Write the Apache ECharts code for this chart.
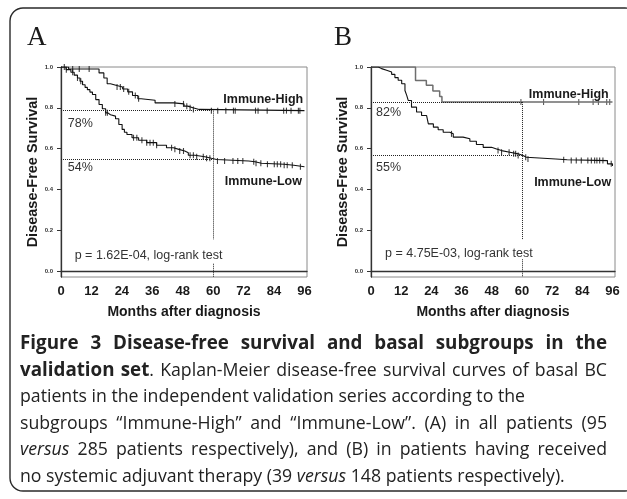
<!DOCTYPE html>
<html>
<head>
<meta charset="utf-8">
<script src="https://cdn.jsdelivr.net/npm/echarts@6/dist/echarts.min.js"></script>
<style>
html,body{margin:0;padding:0;background:#fff;}
#chart{width:627px;height:499px;}
</style>
</head>
<body>
<div id="chart"></div>
<script>
// ---------- data ----------
const xTicks = [0, 12, 24, 36, 48, 60, 72, 84, 96];
const yTicks = [0, 0.2, 0.4, 0.6, 0.8, 1.0];

// Panel A (all patients)
const hiA_t = [0, 3, 15, 16.9, 18.2, 19.5, 22, 24.3, 26.3, 28.2, 30.3, 31.6, 37.1, 44.5, 48.5, 50, 52, 54.5, 96];
const hiA_s = [1, 0.99, 0.971, 0.946, 0.918, 0.909, 0.902, 0.892, 0.878, 0.86, 0.844, 0.837, 0.824, 0.819, 0.808, 0.8, 0.792, 0.786, 0.786];
const loA_t = [0, 2, 3.9, 5.2, 6.5, 7.5, 8.5, 9.5, 10.4, 11.4, 12.4, 13.7, 15, 16.3, 17.6, 18.5, 19.5, 21.5, 22.8, 24.1, 25, 26, 28, 30.6, 33.8, 37.7, 41.6, 44.3, 46.5, 48.8, 50.2, 52.8, 56.7, 59.3, 61.3, 74, 76.5, 79, 88, 91.8, 96];
const loA_s = [1, 0.987, 0.974, 0.96, 0.946, 0.93, 0.913, 0.9, 0.889, 0.877, 0.865, 0.84, 0.816, 0.795, 0.775, 0.766, 0.759, 0.746, 0.718, 0.694, 0.68, 0.669, 0.653, 0.641, 0.629, 0.616, 0.604, 0.596, 0.588, 0.58, 0.567, 0.56, 0.552, 0.546, 0.539, 0.535, 0.528, 0.523, 0.518, 0.511, 0.508];
const cenHiA = [1.3, 4.6, 7.2, 11.1, 22.1, 23.4, 24.7, 26.7, 29.3, 30.6, 44.9, 48.3, 49.6, 50.9, 52.2, 59.3, 61.8, 65, 68, 68.7, 76.7, 77.7, 81.3, 87.8, 88.9, 90.7, 93.6, 94.2];
const cenLoA = [2.1, 4.6, 6.5, 7.8, 17.6, 18.3, 28.6, 29.9, 31.9, 33.8, 35.1, 36.4, 37.7, 43.6, 44.9, 46.8, 48.3, 50.9, 52.2, 53.5, 56.1, 57.4, 58.7, 61.7, 64.5, 67.8, 69.7, 71.7, 76, 76.9, 78.8, 81.4, 84.1, 85.3, 86.6, 88, 89.2, 91.2, 94.4];
const fiveA = {hi: 0.786, lo: 0.548};

// Panel B (no adjuvant therapy)
const hiB_t = [0, 17.7, 22, 24.6, 27.3, 28.2, 96];
const hiB_s = [1, 0.934, 0.91, 0.882, 0.855, 0.828, 0.828];
const loB_t = [0, 2.9, 4.2, 6.2, 8.2, 9.5, 10.8, 12.2, 13.5, 14.2, 14.8, 16.1, 18.1, 20.1, 22.1, 22.8, 24.8, 26.7, 28.7, 31.3, 32.7, 36.6, 39.3, 41.9, 44.6, 47.9, 49.9, 51.9, 55.2, 58.5, 60.4, 61.8, 73.5, 78, 94, 96];
const loB_s = [1, 0.992, 0.984, 0.975, 0.964, 0.948, 0.935, 0.918, 0.885, 0.861, 0.836, 0.803, 0.779, 0.762, 0.754, 0.721, 0.705, 0.692, 0.68, 0.672, 0.656, 0.648, 0.636, 0.62, 0.606, 0.598, 0.59, 0.582, 0.574, 0.566, 0.557, 0.549, 0.545, 0.541, 0.525, 0.515];
const cenHiB = [59.6, 68.6, 82.6, 88.3, 90.4, 93.7, 94.9];
const cenLoB = [32, 50.5, 51.9, 54.9, 56.7, 57.5, 58.5, 61.5, 62.4, 76.6, 79.6, 81.6, 83.6, 86.2, 87.6, 88.9, 89.8, 90.9, 92.2, 95.5];
const fiveB = {hi: 0.828, lo: 0.566};

const panelLetters = ['A', 'B'];
const pValues = ['p = 1.62E-04, log-rank test', 'p = 4.75E-03, log-rank test'];
const pctLabels = [['78%', '54%'], ['82%', '55%']];
const groupNames = ['Immune-High', 'Immune-Low'];

const captionLines = [
  {just: true,  segs: [['b', 'Figure 3 Disease-free survival and basal subgroups in the']]},
  {just: true,  segs: [['b', 'validation set'], ['r', '. Kaplan-Meier disease-free survival curves of basal BC']]},
  {just: false, segs: [['r', 'patients in the independent validation series according to the']]},
  {just: true,  segs: [['r', 'subgroups \u201cImmune-High\u201d and \u201cImmune-Low\u201d. (A) in all patients (95']]},
  {just: true,  segs: [['i', 'versus'], ['r', ' 285 patients respectively), and (B) in patients having received']]},
  {just: false, segs: [['r', 'no systemic adjuvant therapy (39 '], ['i', 'versus'], ['r', ' 148 patients respectively).']]}
];

// ---------- helpers ----------
function pairs(ts, ss) { return ts.map((t, i) => [t, ss[i]]); }
function survAt(ts, ss, t) { let v = ss[0]; for (let i = 0; i < ts.length; i++) { if (ts[i] <= t) v = ss[i]; } return v; }
function cens(ts, ss, cs) { return cs.map(t => [t, survAt(ts, ss, t)]); }

const SANS = '"Liberation Sans", Arial, sans-serif';
const ink = '#1a1a1a';

const grids = [
  {left: 61, top: 67, width: 246, height: 210, show: true, borderColor: '#8a8a8a', borderWidth: 1},
  {left: 371, top: 67, width: 244, height: 210, show: true, borderColor: '#8a8a8a', borderWidth: 1}
];

function xAxis(i) {
  return {
    type: 'value', gridIndex: i, min: 0, max: 97,
    name: 'Months after diagnosis', nameLocation: 'middle', nameGap: 28,
    nameTextStyle: {fontFamily: SANS, fontWeight: 'bold', fontSize: 14, color: ink},
    axisLine: {show: true, lineStyle: {color: '#333', width: 1.3}},
    axisTick: {show: false},
    splitLine: {show: false},
    axisLabel: {customValues: xTicks, fontFamily: SANS, fontWeight: 'bold', fontSize: 13, color: ink, margin: 8}
  };
}
function yAxis(i) {
  return {
    type: 'value', gridIndex: i, min: -0.03, max: 1.0,
    name: 'Disease-Free Survival', nameLocation: 'middle', nameGap: 21,
    nameTextStyle: {fontFamily: SANS, fontWeight: 'bold', fontSize: 14.5, color: ink},
    axisLine: {show: true, lineStyle: {color: '#333', width: 1.3}},
    axisTick: {show: true, inside: false, length: 4, customValues: yTicks, lineStyle: {color: '#333'}},
    splitLine: {show: false},
    axisLabel: {customValues: yTicks, formatter: v => v.toFixed(1), fontFamily: SANS, fontWeight: 'bold', fontSize: 6, color: '#333', margin: 8}
  };
}

function dotted(five, gapTop, gapBot) {
  return {
    symbol: 'none', silent: true, label: {show: false},
    lineStyle: {type: 'dotted', color: '#222', width: 1},
    data: [
      [{coord: [0, five.hi]}, {coord: [60, five.hi]}],
      [{coord: [0, five.lo]}, {coord: [60, five.lo]}],
      [{coord: [60, five.hi]}, {coord: [60, gapTop]}],
      [{coord: [60, gapBot]}, {coord: [60, -0.03]}]
    ]
  };
}

function lineSeries(i, data, color, width, mark) {
  const s = {
    type: 'line', xAxisIndex: i, yAxisIndex: i, step: 'end', data: data,
    showSymbol: false, symbol: 'none', silent: true, animation: false,
    lineStyle: {color: color, width: width}
  };
  if (mark) s.markLine = mark;
  return s;
}
function censSeries(i, data, color) {
  return {
    type: 'scatter', xAxisIndex: i, yAxisIndex: i, data: data, silent: true, animation: false,
    symbol: 'rect', symbolSize: [1.1, 6], itemStyle: {color: color}
  };
}

const series = [
  lineSeries(0, pairs(hiA_t, hiA_s), '#111', 1.1, dotted(fiveA, 0.155, 0.035)),
  lineSeries(0, pairs(loA_t, loA_s), '#111', 1.1),
  censSeries(0, cens(hiA_t, hiA_s, cenHiA), '#111'),
  censSeries(0, cens(loA_t, loA_s, cenLoA), '#111'),
  lineSeries(1, pairs(hiB_t, hiB_s), '#6e6e6e', 1.5, dotted(fiveB, 0.156, 0.057)),
  lineSeries(1, pairs(loB_t, loB_s), '#111', 1.1),
  censSeries(1, cens(hiB_t, hiB_s, cenHiB), '#333'),
  censSeries(1, cens(loB_t, loB_s, cenLoB), '#111')
];

const chart = echarts.init(document.getElementById('chart'), null, {renderer: 'canvas'});
chart.setOption({
  animation: false,
  backgroundColor: '#fff',
  grid: grids,
  xAxis: [xAxis(0), xAxis(1)],
  yAxis: [yAxis(0), yAxis(1)],
  series: series
});

// ---------- annotations (placed in data coordinates) ----------
const annots = [
  // [grid, text, t, s, align, bold]
  [0, groupNames[0], 95.5, 0.84, 'right', true],
  [0, groupNames[1], 95, 0.44, 'right', true],
  [0, pctLabels[0][0], 2.7, 0.723, 'left', false],
  [0, pctLabels[0][1], 2.7, 0.508, 'left', false],
  [0, pValues[0], 5.4, 0.073, 'left', false],
  [1, groupNames[0], 94.5, 0.866, 'right', true],
  [1, groupNames[1], 95.5, 0.433, 'right', true],
  [1, pctLabels[1][0], 2, 0.777, 'left', false],
  [1, pctLabels[1][1], 2, 0.507, 'left', false],
  [1, pValues[1], 5.6, 0.083, 'left', false]
];

const graphics = [];
// outer rounded frame
graphics.push({type: 'rect', silent: true, z: 0,
  shape: {x: 10, y: 8, width: 628, height: 483, r: 13},
  style: {fill: 'none', stroke: '#2a2a2a', lineWidth: 1.4}});
// panel letters
[[27, 0], [334, 1]].forEach(([x, i]) => {
  graphics.push({type: 'text', silent: true, x: x, y: 38,
    style: {text: panelLetters[i], fontFamily: '"Liberation Serif", "Times New Roman", serif', fontSize: 27, fill: ink, verticalAlign: 'middle', textVerticalAlign: 'middle'}});
});
annots.forEach(a => {
  const p = chart.convertToPixel({gridIndex: a[0]}, [a[2], a[3]]);
  graphics.push({type: 'text', silent: true, x: p[0], y: p[1], z: 10,
    style: {text: a[1], fontFamily: SANS, fontSize: 12.5, fontWeight: a[5] ? 'bold' : 'normal',
      fill: a[5] ? ink : '#333', align: a[4], textAlign: a[4], verticalAlign: 'middle', textVerticalAlign: 'middle'}});
});

// caption with justified lines
const capFamily = '"Open Sans", sans-serif';
const capSizeReg = 17.7, capSizeBold = 18.8;
const capLeft = 20, capRight = 607, capTop = 344, capStep = 26.6;
const cv = document.createElement('canvas').getContext('2d');
function sizeOf(st) { return st === 'b' ? capSizeBold : capSizeReg; }
function fontOf(st) {
  return (st === 'i' ? 'italic ' : 'normal ') + (st === 'b' ? 'bold ' : 'normal ') + sizeOf(st) + 'px ' + capFamily;
}
function measure(st, txt) { cv.font = fontOf(st); return cv.measureText(txt).width; }
captionLines.forEach((line, li) => {
  const words = [];
  let cur = [];
  line.segs.forEach(([st, txt]) => {
    const parts = txt.split(' ');
    parts.forEach((part, j) => {
      if (j > 0) { if (cur.length) words.push(cur); cur = []; }
      if (part.length) cur.push([st, part]);
    });
  });
  if (cur.length) words.push(cur);
  const widths = words.map(w => w.reduce((acc, p) => acc + measure(p[0], p[1]), 0));
  const total = widths.reduce((a, b) => a + b, 0);
  const gap = line.just ? (capRight - capLeft - total) / (words.length - 1) : measure('r', ' ');
  let x = capLeft;
  const y = capTop + li * capStep;
  words.forEach((w, wi) => {
    let px = x;
    w.forEach(([st, txt]) => {
      graphics.push({type: 'text', silent: true, x: px, y: y,
        style: {text: txt, fontFamily: capFamily, fontSize: sizeOf(st),
          fontWeight: st === 'b' ? 'bold' : 'normal', fontStyle: st === 'i' ? 'italic' : 'normal',
          fill: '#222', align: 'left', textAlign: 'left', verticalAlign: 'middle', textVerticalAlign: 'middle'}});
      px += measure(st, txt);
    });
    x += widths[wi] + gap;
  });
});

chart.setOption({graphic: graphics});
</script>
</body>
</html>
